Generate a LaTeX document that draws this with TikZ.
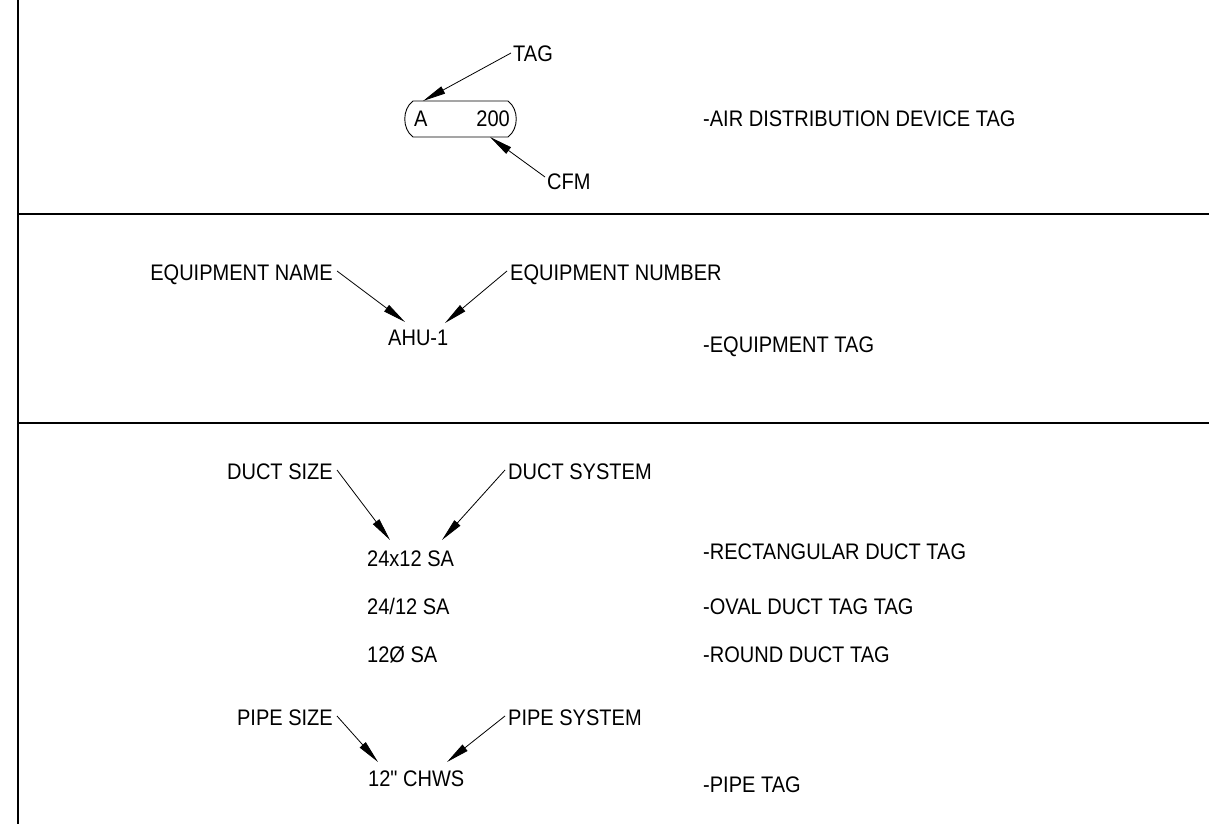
\documentclass[tikz,border=0pt]{standalone}
\usepackage{fontspec}
\setmainfont{Liberation Sans}[Ligatures=TeXOff,FakeStretch=0.89]
\usetikzlibrary{arrows.meta}
\begin{document}
\begin{tikzpicture}[x=1pt,y=-1pt,
  txt/.style={inner sep=0pt,font=\fontsize{22.5}{26}\selectfont},
  lbl/.style={txt,anchor=base west},
  lble/.style={txt,anchor=base east},
  border/.style={line width=2.6pt},
  leader/.style={line width=0.8pt,-{Triangle[length=23pt,width=8pt]}},
  plain/.style={line width=0.9pt}]
\useasboundingbox (0,0) rectangle (1209,824);
% frame lines
\coordinate (vt) at (18,0);
\coordinate (vb) at (18,824);
\coordinate (h1l) at (18,214);
\coordinate (h1r) at (1209,214);
\coordinate (h2l) at (18,423);
\coordinate (h2r) at (1209,423);
\draw[border] (vt) -- (vb);
\draw[border] (h1l) -- (h1r);
\draw[border] (h2l) -- (h2r);

% ---- section 1: air distribution device tag
\draw[plain] (413,101) -- (508,101) .. controls (519,109) and (519,129) .. (508,137)
  -- (413,137) .. controls (402,129) and (402,109) .. (413,101);
\node[lbl] (a) at (414,127) {A};
\node[lble] (cfmv) at (510,127) {200};
\node[lbl] (tag) at (513,62) {TAG};
\node[lbl] (cfm) at (547,189) {CFM};
\coordinate (tagtip) at (423,101);
\coordinate (cfmtip) at (490,137);
\coordinate (tagst) at (511,53);
\coordinate (cfmst) at (545,177);
\draw[leader] (tagst) -- (tagtip);
\draw[leader] (cfmst) -- (cfmtip);
\node[lbl] (d1) at (703,127) {-AIR DISTRIBUTION DEVICE TAG};

% ---- section 2: equipment tag
\node[lble] (eqn) at (333,280) {EQUIPMENT NAME};
\node[lbl] (eqnum) at (510,280) {EQUIPMENT NUMBER};
\node[lbl] (ahu) at (388,345) {AHU-1};
\coordinate (eqnst) at (337,271);
\coordinate (eqnumst) at (507,271);
\coordinate (eqntip) at (405,322);
\coordinate (eqnumtip) at (445,323);
\draw[leader] (eqnst) -- (eqntip);
\draw[leader] (eqnumst) -- (eqnumtip);
\node[lbl] (d2) at (703,352) {-EQUIPMENT TAG};

% ---- section 3: duct and pipe tags
\node[lble] (dsz) at (333,479) {DUCT SIZE};
\node[lbl] (dsys) at (508,479) {DUCT SYSTEM};
\coordinate (dszst) at (337,470);
\coordinate (dsysst) at (505,470);
\coordinate (dsztip) at (390,540);
\coordinate (dsystip) at (442,540);
\draw[leader] (dszst) -- (dsztip);
\draw[leader] (dsysst) -- (dsystip);
\node[lbl] (r1) at (367,566) {24x12 SA};
\node[lbl] (r2) at (367,614) {24/12 SA};
\node[lbl] (r3) at (367,662) {12Ø SA};
\node[lbl] (d3) at (703,559) {-RECTANGULAR DUCT TAG};
\node[lbl] (d4) at (703,614) {-OVAL DUCT TAG TAG};
\node[lbl] (d5) at (703,662) {-ROUND DUCT TAG};

\node[lble] (psz) at (333,725) {PIPE SIZE};
\node[lbl] (psys) at (508,725) {PIPE SYSTEM};
\coordinate (pszst) at (337,716);
\coordinate (psysst) at (505,716);
\coordinate (psztip) at (378,762);
\coordinate (psystip) at (447,762);
\draw[leader] (pszst) -- (psztip);
\draw[leader] (psysst) -- (psystip);
\node[lbl] (p1) at (368,786) {12" CHWS};
\node[lbl] (d6) at (703,792) {-PIPE TAG};
\end{tikzpicture}
\end{document}
